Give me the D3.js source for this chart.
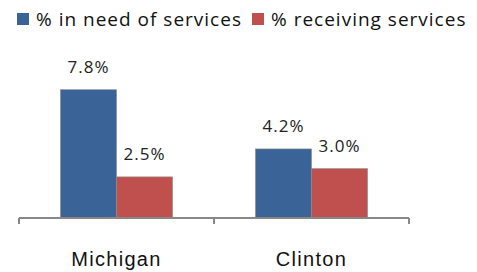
<!DOCTYPE html>
<html>
<head>
<meta charset="utf-8">
<script src="https://cdnjs.cloudflare.com/ajax/libs/d3/7.8.5/d3.min.js"></script>
<style>
	body { margin: 0; background: #fff; }
	svg { display: block; font-family: 'Open Sans', sans-serif; }
	.bar-label { font-size: 17px; letter-spacing: 1px; fill: #222; }
	.cat-label { font-size: 20px; letter-spacing: 1.3px; fill: #111; }
	.legend-text { font-size: 19px; letter-spacing: 1px; fill: #111; }
</style>
</head>
<body>
<div id="chart"></div>
<script>

var categories = ['Michigan', 'Clinton'];
var series = ['% in need of services', '% receiving services'];
var needValues = [7.8, 4.2];
var receivingValues = [2.5, 3.0];
var valueLabels = [['7.8%', '2.5%'], ['4.2%', '3.0%']];
var colors = ['#3a6397', '#c0504d'];

var dim = { w: 477, h: 272 };
var margin = { left: 19, right: 68, top: 70, bottom: 54 };

var svg = d3.select('#chart').append('svg')
	.attr('width', dim.w)
	.attr('height', dim.h);

var x0 = d3.scaleBand()
	.domain(categories)
	.range([margin.left, dim.w - margin.right])
	.paddingInner(0)
	.paddingOuter(0);

var x1 = d3.scaleBand()
	.domain(series)
	.range([0, x0.bandwidth()])
	.paddingInner(0)
	.paddingOuter(0.74);

var y = d3.scaleLinear()
	.domain([0, 9])
	.range([dim.h - margin.bottom, margin.top]);

// bars
categories.forEach(function (c, i) {
	var vals = [needValues[i], receivingValues[i]];
	var g = svg.append('g')
		.attr('transform', 'translate(' + x0(c) + ',0)');
	vals.forEach(function (v, j) {
		g.append('rect')
			.attr('x', x1(series[j]))
			.attr('y', y(v))
			.attr('width', x1.bandwidth())
			.attr('height', y(0) - y(v))
			.attr('fill', colors[j])
			.attr('stroke', '#8a8a8a')
			.attr('stroke-width', 0.6);
		g.append('text')
			.attr('x', x1(series[j]) + x1.bandwidth() / 2)
			.attr('y', y(v) - 17)
			.attr('text-anchor', 'middle')
			.attr('class', 'bar-label')
			.text(valueLabels[i][j]);
	});
});

// axis
var axis = svg.append('g')
	.attr('transform', 'translate(0,' + y(0) + ')')
	.call(d3.axisBottom(x0).tickSize(0).tickFormat(''));
axis.select('.domain').remove();
axis.append('line')
	.attr('x1', x0.range()[0]).attr('x2', x0.range()[1])
	.attr('stroke', '#888').attr('stroke-width', 2);
var edges = categories.map(function (c) { return x0(c); }).concat([x0.range()[1]]);
edges.forEach(function (e) {
	axis.append('line')
		.attr('x1', e).attr('x2', e)
		.attr('y1', 0).attr('y2', 6)
		.attr('stroke', '#888').attr('stroke-width', 2);
});
categories.forEach(function (c) {
	axis.append('text')
		.attr('x', x0(c) + x0.bandwidth() / 2)
		.attr('y', 48)
		.attr('text-anchor', 'middle')
		.attr('class', 'cat-label')
		.text(c);
});

// legend
var legendX = [17, 252];
series.forEach(function (s, j) {
	svg.append('rect')
		.attr('x', legendX[j])
		.attr('y', 13)
		.attr('width', 12)
		.attr('height', 12)
		.attr('fill', colors[j]);
	svg.append('text')
		.attr('x', legendX[j] + 19)
		.attr('y', 26)
		.attr('class', 'legend-text')
		.text(s);
});

</script>
</body>
</html>
